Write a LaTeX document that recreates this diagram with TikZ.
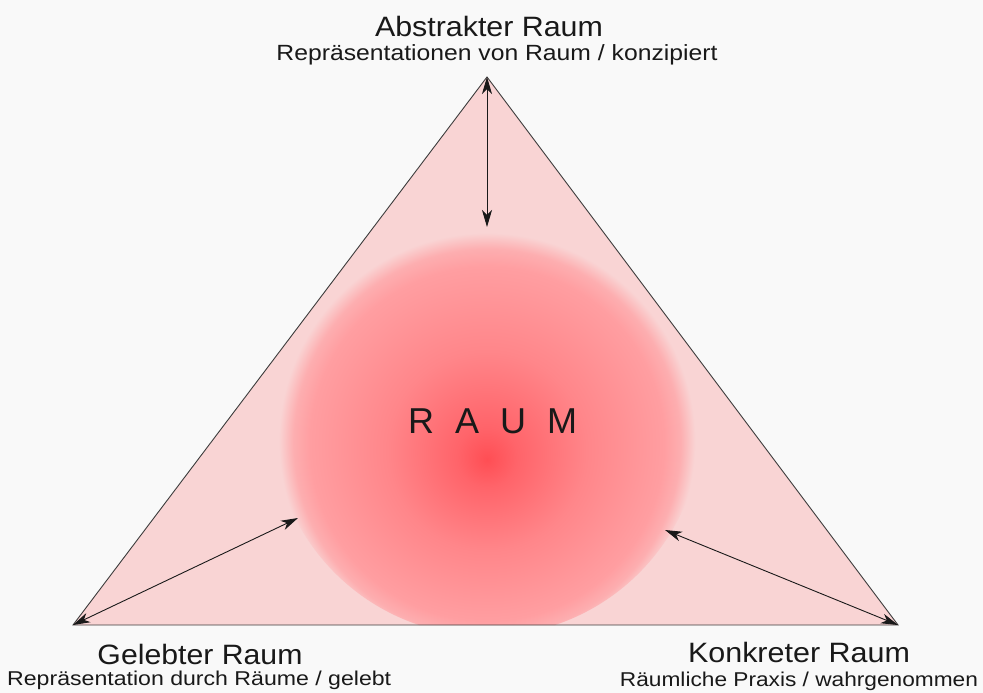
\documentclass[tikz,border=0pt]{standalone}
\usepackage{fontspec}
\usepackage{graphicx}
\setmainfont{Liberation Sans}
\usetikzlibrary{arrows.meta}
\definecolor{bg}{RGB}{249,249,249}
\definecolor{trifill}{RGB}{249,212,212}
\definecolor{txt}{RGB}{25,25,25}
\definecolor{cA}{RGB}{255,78,84}
\definecolor{cB}{RGB}{255,100,106}
\definecolor{cC}{RGB}{255,134,138}
\definecolor{cD}{RGB}{255,158,161}
\definecolor{cE}{RGB}{253,174,176}
\pgfdeclareradialshading{raumshade}{\pgfpoint{0bp}{-4.5bp}}{color(0bp)=(cA); color(3.5bp)=(cB); color(11.6bp)=(cC); color(20.6bp)=(cD); color(22.5bp)=(cE); color(24.2bp)=(trifill); color(50bp)=(trifill)}
\newcommand\hwide[2]{\resizebox{#1}{\height}{#2}}
\begin{document}
\begin{tikzpicture}[x=1pt,y=-1pt,
  arr/.style={draw=txt, line width=0.9pt, {Stealth[length=17pt,width=10pt,inset=5pt]}-{Stealth[length=17pt,width=10pt,inset=5pt]}},
  edge/.style={draw=txt!85, line width=0.9pt},
  titletext/.style={anchor=base, inner sep=0pt, text=txt, font=\fontsize{28}{30}\selectfont},
  subtext/.style={anchor=base, inner sep=0pt, text=txt, font=\fontsize{20}{24}\selectfont}]
\fill[bg] (0,0) rectangle (983,693);
\useasboundingbox (0,0) rectangle (983,693);
\coordinate (A) at (487,77);
\coordinate (B) at (73,625);
\coordinate (C) at (898,625);
\fill[trifill] (A) -- (B) -- (C) -- cycle;
\begin{scope}
  \clip (A) -- (B) -- (C) -- cycle;
  \shade[shading=raumshade] (487,421) circle[radius=215];
\end{scope}
\draw[edge] (A) -- (B) -- (C) -- cycle;
\coordinate (ta) at (487,227);
\coordinate (la) at (298,518);
\coordinate (ra) at (665,530);
\draw[arr] (A) -- (ta);
\draw[arr] (B) -- (la);
\draw[arr] (C) -- (ra);
\node[anchor=base west, inner sep=0pt, text=txt, font=\fontsize{36}{40}\selectfont] (raum) at (408,433) {R\hspace{21pt}A\hspace{21pt}U\hspace{21pt}M};
\node[titletext] (t1) at (489,37) {\hwide{228pt}{Abstrakter Raum}};
\node[subtext, font=\fontsize{22}{24}\selectfont] (s1) at (497,61) {\hwide{441pt}{Repräsentationen von Raum / konzipiert}};
\node[titletext] (t2) at (200,664) {\hwide{205pt}{Gelebter Raum}};
\node[subtext, anchor=base west] (s2) at (7,685) {\hwide{384pt}{Repräsentation durch Räume / gelebt}};
\node[titletext] (t3) at (799,662) {\hwide{222pt}{Konkreter Raum}};
\node[subtext] (s3) at (799,686) {\hwide{358pt}{Räumliche Praxis / wahrgenommen}};
\end{tikzpicture}
\end{document}
